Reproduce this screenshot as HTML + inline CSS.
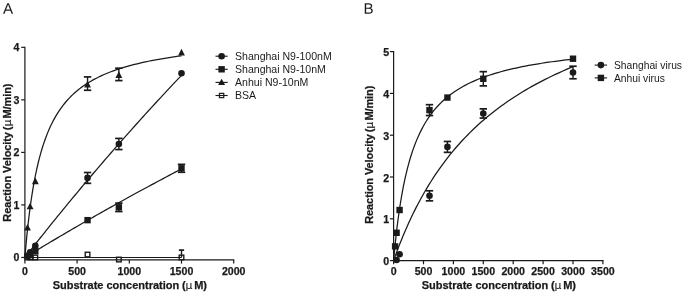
<!DOCTYPE html>
<html><head><meta charset="utf-8"><title>Figure</title>
<style>
html,body{margin:0;padding:0;background:#fff;}
body{width:685px;height:295px;overflow:hidden;}
svg{display:block;}
text{font-family:"Liberation Sans",Arial,Helvetica,sans-serif;fill:#1a1a1a;}
.tk{font-size:10.6px;font-weight:bold;stroke:#1a1a1a;stroke-width:0.25px;}
.al{font-size:11px;font-weight:bold;stroke:#1a1a1a;stroke-width:0.25px;}
.lg{font-size:10.55px;}
.lb{font-size:10.3px;}
.pl{font-size:15.2px;}
.mu{font-family:"DejaVu Sans","Liberation Sans",sans-serif;font-weight:normal;font-size:10.8px;stroke-width:0.1px;}
</style></head><body>
<svg width="685" height="295" viewBox="0 0 685 295">
<rect width="100%" height="100%" fill="#fff"/>
<text transform="translate(3 13.7) rotate(0.05)" class="pl">A</text>
<text transform="translate(363.5 13.7) rotate(0.05)" class="pl">B</text>
<line x1="24.3" y1="259.9" x2="234.3" y2="259.9" stroke="#1a1a1a" stroke-width="1.2" stroke-linecap="butt"/>
<line x1="24.9" y1="259.9" x2="24.9" y2="46.73" stroke="#1a1a1a" stroke-width="1.2" stroke-linecap="butt"/>
<line x1="24.9" y1="259.9" x2="24.9" y2="263.6" stroke="#1a1a1a" stroke-width="1.2" stroke-linecap="butt"/>
<text x="24.9" y="274.5" text-anchor="middle" class="tk">0</text>
<line x1="77.1" y1="259.9" x2="77.1" y2="263.6" stroke="#1a1a1a" stroke-width="1.2" stroke-linecap="butt"/>
<text x="77.1" y="274.5" text-anchor="middle" class="tk">500</text>
<line x1="129.3" y1="259.9" x2="129.3" y2="263.6" stroke="#1a1a1a" stroke-width="1.2" stroke-linecap="butt"/>
<text x="129.3" y="274.5" text-anchor="middle" class="tk">1000</text>
<line x1="181.5" y1="259.9" x2="181.5" y2="263.6" stroke="#1a1a1a" stroke-width="1.2" stroke-linecap="butt"/>
<text x="181.5" y="274.5" text-anchor="middle" class="tk">1500</text>
<line x1="233.7" y1="259.9" x2="233.7" y2="263.6" stroke="#1a1a1a" stroke-width="1.2" stroke-linecap="butt"/>
<text x="233.7" y="274.5" text-anchor="middle" class="tk">2000</text>
<line x1="21.2" y1="257.45" x2="24.9" y2="257.45" stroke="#1a1a1a" stroke-width="1.2" stroke-linecap="butt"/>
<text x="19.3" y="261.15" text-anchor="end" class="tk">0</text>
<line x1="21.2" y1="204.92" x2="24.9" y2="204.92" stroke="#1a1a1a" stroke-width="1.2" stroke-linecap="butt"/>
<text x="19.3" y="208.62" text-anchor="end" class="tk">1</text>
<line x1="21.2" y1="152.39" x2="24.9" y2="152.39" stroke="#1a1a1a" stroke-width="1.2" stroke-linecap="butt"/>
<text x="19.3" y="156.09" text-anchor="end" class="tk">2</text>
<line x1="21.2" y1="99.86" x2="24.9" y2="99.86" stroke="#1a1a1a" stroke-width="1.2" stroke-linecap="butt"/>
<text x="19.3" y="103.56" text-anchor="end" class="tk">3</text>
<line x1="21.2" y1="47.33" x2="24.9" y2="47.33" stroke="#1a1a1a" stroke-width="1.2" stroke-linecap="butt"/>
<text x="19.3" y="51.03" text-anchor="end" class="tk">4</text>
<polyline points="24.9,257.45 25.04,255.73 25.33,252.32 25.72,247.83 26.2,242.59 26.75,236.79 27.38,230.63 28.08,224.23 28.83,217.71 29.65,211.16 30.52,204.66 31.45,198.24 32.43,191.97 33.45,185.87 34.53,179.95 35.65,174.25 36.82,168.76 38.04,163.49 39.3,158.45 40.6,153.62 41.94,149.02 43.32,144.62 44.75,140.43 46.21,136.43 47.71,132.63 49.25,129.01 50.83,125.56 52.44,122.27 54.09,119.14 55.78,116.16 57.5,113.33 59.26,110.62 61.05,108.04 62.87,105.58 64.73,103.24 66.62,101 68.54,98.86 70.5,96.82 72.49,94.87 74.51,93.01 76.56,91.22 78.64,89.51 80.75,87.88 82.9,86.32 85.07,84.82 87.27,83.38 89.5,82 91.77,80.67 94.06,79.4 96.38,78.18 98.72,77.01 101.1,75.88 103.51,74.79 105.94,73.75 108.4,72.74 110.89,71.77 113.4,70.84 115.94,69.94 118.51,69.07 121.11,68.23 123.73,67.43 126.38,66.64 129.05,65.89 131.75,65.16 134.48,64.46 137.23,63.78 140.01,63.12 142.81,62.48 145.64,61.86 148.5,61.26 151.37,60.68 154.28,60.12 157.21,59.58 160.16,59.05 163.14,58.54 166.14,58.04 169.16,57.56 172.21,57.09 175.28,56.63 178.38,56.19 181.5,55.76" fill="none" stroke="#1a1a1a" stroke-width="1.25" stroke-linejoin="round"/>
<polyline points="24.9,257.45 25.04,257.27 25.33,256.9 25.72,256.4 26.2,255.78 26.75,255.07 27.38,254.27 28.08,253.38 28.83,252.41 29.65,251.37 30.52,250.25 31.45,249.07 32.43,247.83 33.45,246.52 34.53,245.16 35.65,243.73 36.82,242.25 38.04,240.72 39.3,239.13 40.6,237.49 41.94,235.8 43.32,234.07 44.75,232.28 46.21,230.45 47.71,228.58 49.25,226.66 50.83,224.7 52.44,222.7 54.09,220.66 55.78,218.58 57.5,216.46 59.26,214.3 61.05,212.1 62.87,209.87 64.73,207.6 66.62,205.3 68.54,202.97 70.5,200.6 72.49,198.19 74.51,195.76 76.56,193.3 78.64,190.8 80.75,188.27 82.9,185.72 85.07,183.14 87.27,180.52 89.5,177.88 91.77,175.22 94.06,172.53 96.38,169.81 98.72,167.06 101.1,164.29 103.51,161.5 105.94,158.69 108.4,155.85 110.89,152.98 113.4,150.1 115.94,147.19 118.51,144.26 121.11,141.31 123.73,138.34 126.38,135.36 129.05,132.35 131.75,129.32 134.48,126.27 137.23,123.21 140.01,120.13 142.81,117.03 145.64,113.91 148.5,110.78 151.37,107.63 154.28,104.46 157.21,101.28 160.16,98.08 163.14,94.87 166.14,91.65 169.16,88.41 172.21,85.16 175.28,81.89 178.38,78.61 181.5,75.32" fill="none" stroke="#1a1a1a" stroke-width="1.25" stroke-linejoin="round"/>
<polyline points="24.9,257.45 25.04,257.36 25.33,257.19 25.72,256.95 26.2,256.66 26.75,256.32 27.38,255.93 28.08,255.51 28.83,255.05 29.65,254.55 30.52,254.02 31.45,253.46 32.43,252.87 33.45,252.24 34.53,251.59 35.65,250.91 36.82,250.21 38.04,249.47 39.3,248.71 40.6,247.93 41.94,247.12 43.32,246.29 44.75,245.44 46.21,244.57 47.71,243.67 49.25,242.75 50.83,241.81 52.44,240.85 54.09,239.87 55.78,238.87 57.5,237.85 59.26,236.82 61.05,235.76 62.87,234.69 64.73,233.59 66.62,232.49 68.54,231.36 70.5,230.22 72.49,229.06 74.51,227.89 76.56,226.69 78.64,225.49 80.75,224.27 82.9,223.03 85.07,221.78 87.27,220.52 89.5,219.24 91.77,217.94 94.06,216.64 96.38,215.32 98.72,213.98 101.1,212.64 103.51,211.28 105.94,209.91 108.4,208.52 110.89,207.13 113.4,205.72 115.94,204.3 118.51,202.87 121.11,201.43 123.73,199.98 126.38,198.51 129.05,197.04 131.75,195.55 134.48,194.06 137.23,192.56 140.01,191.04 142.81,189.52 145.64,187.98 148.5,186.44 151.37,184.89 154.28,183.33 157.21,181.76 160.16,180.18 163.14,178.59 166.14,176.99 169.16,175.39 172.21,173.78 175.28,172.16 178.38,170.53 181.5,168.9" fill="none" stroke="#1a1a1a" stroke-width="1.25" stroke-linejoin="round"/>
<line x1="24.9" y1="257.45" x2="181.5" y2="257.45" stroke="#1a1a1a" stroke-width="1.1" stroke-linecap="butt"/>
<line x1="181.5" y1="250.1" x2="181.5" y2="257.45" stroke="#1a1a1a" stroke-width="1.4" stroke-linecap="butt"/>
<line x1="178.9" y1="250.1" x2="184.1" y2="250.1" stroke="#1a1a1a" stroke-width="1.7" stroke-linecap="butt"/>
<rect x="27.82" y="255.15" width="4.6" height="4.6" fill="none" stroke="#1a1a1a" stroke-width="1.4"/>
<rect x="33.04" y="255.15" width="4.6" height="4.6" fill="none" stroke="#1a1a1a" stroke-width="1.4"/>
<rect x="85.24" y="252.26" width="4.6" height="4.6" fill="none" stroke="#1a1a1a" stroke-width="1.4"/>
<rect x="116.56" y="257.25" width="4.6" height="4.6" fill="none" stroke="#1a1a1a" stroke-width="1.4"/>
<rect x="179.2" y="255.15" width="4.6" height="4.6" fill="none" stroke="#1a1a1a" stroke-width="1.4"/>
<line x1="87.54" y1="76.9" x2="87.54" y2="90.25" stroke="#1a1a1a" stroke-width="1.4" stroke-linecap="butt"/>
<line x1="83.84" y1="76.9" x2="91.24" y2="76.9" stroke="#1a1a1a" stroke-width="1.7" stroke-linecap="butt"/>
<line x1="83.84" y1="90.25" x2="91.24" y2="90.25" stroke="#1a1a1a" stroke-width="1.7" stroke-linecap="butt"/>
<line x1="118.86" y1="68.18" x2="118.86" y2="80.58" stroke="#1a1a1a" stroke-width="1.4" stroke-linecap="butt"/>
<line x1="115.16" y1="68.18" x2="122.56" y2="68.18" stroke="#1a1a1a" stroke-width="1.7" stroke-linecap="butt"/>
<line x1="115.16" y1="80.58" x2="122.56" y2="80.58" stroke="#1a1a1a" stroke-width="1.7" stroke-linecap="butt"/>
<polygon points="27.51,223.92 24.11,230.62 30.91,230.62" fill="#1a1a1a"/>
<polygon points="30.12,202.65 26.72,209.35 33.52,209.35" fill="#1a1a1a"/>
<polygon points="35.34,177.43 31.94,184.13 38.74,184.13" fill="#1a1a1a"/>
<polygon points="87.54,80.78 84.14,87.48 90.94,87.48" fill="#1a1a1a"/>
<polygon points="118.86,71.32 115.46,78.02 122.26,78.02" fill="#1a1a1a"/>
<polygon points="181.5,48.73 178.1,55.43 184.9,55.43" fill="#1a1a1a"/>
<line x1="87.54" y1="172.51" x2="87.54" y2="183.33" stroke="#1a1a1a" stroke-width="1.4" stroke-linecap="butt"/>
<line x1="83.84" y1="172.51" x2="91.24" y2="172.51" stroke="#1a1a1a" stroke-width="1.7" stroke-linecap="butt"/>
<line x1="83.84" y1="183.33" x2="91.24" y2="183.33" stroke="#1a1a1a" stroke-width="1.7" stroke-linecap="butt"/>
<line x1="118.86" y1="138.42" x2="118.86" y2="149.55" stroke="#1a1a1a" stroke-width="1.4" stroke-linecap="butt"/>
<line x1="115.16" y1="138.42" x2="122.56" y2="138.42" stroke="#1a1a1a" stroke-width="1.7" stroke-linecap="butt"/>
<line x1="115.16" y1="149.55" x2="122.56" y2="149.55" stroke="#1a1a1a" stroke-width="1.7" stroke-linecap="butt"/>
<circle cx="27.51" cy="255.87" r="3.3" fill="#1a1a1a"/>
<circle cx="30.12" cy="252.2" r="3.3" fill="#1a1a1a"/>
<circle cx="35.34" cy="245.89" r="3.3" fill="#1a1a1a"/>
<circle cx="87.54" cy="177.92" r="3.3" fill="#1a1a1a"/>
<circle cx="118.86" cy="143.99" r="3.3" fill="#1a1a1a"/>
<circle cx="181.5" cy="73.23" r="3.3" fill="#1a1a1a"/>
<line x1="118.86" y1="203.13" x2="118.86" y2="211.54" stroke="#1a1a1a" stroke-width="1.4" stroke-linecap="butt"/>
<line x1="115.16" y1="203.13" x2="122.56" y2="203.13" stroke="#1a1a1a" stroke-width="1.7" stroke-linecap="butt"/>
<line x1="115.16" y1="211.54" x2="122.56" y2="211.54" stroke="#1a1a1a" stroke-width="1.7" stroke-linecap="butt"/>
<line x1="181.5" y1="164.37" x2="181.5" y2="172.25" stroke="#1a1a1a" stroke-width="1.4" stroke-linecap="butt"/>
<line x1="177.8" y1="164.37" x2="185.2" y2="164.37" stroke="#1a1a1a" stroke-width="1.7" stroke-linecap="butt"/>
<line x1="177.8" y1="172.25" x2="185.2" y2="172.25" stroke="#1a1a1a" stroke-width="1.7" stroke-linecap="butt"/>
<rect x="24.31" y="253.2" width="6.4" height="6.4" fill="#1a1a1a"/>
<rect x="26.92" y="251.62" width="6.4" height="6.4" fill="#1a1a1a"/>
<rect x="32.14" y="247.95" width="6.4" height="6.4" fill="#1a1a1a"/>
<rect x="84.34" y="216.95" width="6.4" height="6.4" fill="#1a1a1a"/>
<rect x="115.66" y="204.14" width="6.4" height="6.4" fill="#1a1a1a"/>
<rect x="178.3" y="165.11" width="6.4" height="6.4" fill="#1a1a1a"/>
<text y="289.1" class="al"><tspan x="52.7">Substrate concentration</tspan> <tspan x="182.1">(</tspan><tspan x="185.4" class="mu">μ</tspan><tspan x="194.2">M)</tspan></text>
<text transform="translate(11.2,221.7) rotate(-90)" y="0" class="al"><tspan x="0" letter-spacing="-0.09">Reaction Velocity</tspan> <tspan x="91.5">(</tspan><tspan x="95.1" class="mu">μ</tspan><tspan x="103.2" letter-spacing="-0.1">M/min)</tspan></text>
<line x1="215.5" y1="56.2" x2="227.7" y2="56.2" stroke="#1a1a1a" stroke-width="1.1" stroke-linecap="butt"/>
<circle cx="221.6" cy="56.2" r="3.3" fill="#1a1a1a"/>
<text x="235.0" y="59.9" class="lg">Shanghai N9-100nM</text>
<line x1="215.5" y1="69.3" x2="227.7" y2="69.3" stroke="#1a1a1a" stroke-width="1.1" stroke-linecap="butt"/>
<rect x="218.4" y="66.1" width="6.4" height="6.4" fill="#1a1a1a"/>
<text x="235.0" y="73" class="lg">Shanghai N9-10nM</text>
<line x1="215.5" y1="82.4" x2="227.7" y2="82.4" stroke="#1a1a1a" stroke-width="1.1" stroke-linecap="butt"/>
<polygon points="221.6,78.8 218.1,85 225.1,85" fill="#1a1a1a"/>
<text x="235.0" y="86.1" class="lg">Anhui N9-10nM</text>
<line x1="215.5" y1="95.5" x2="227.7" y2="95.5" stroke="#1a1a1a" stroke-width="1.1" stroke-linecap="butt"/>
<rect x="219.45" y="93.35" width="4.3" height="4.3" fill="none" stroke="#1a1a1a" stroke-width="1.2"/>
<text x="235.0" y="99.2" class="lg">BSA</text>
<line x1="393" y1="260.6" x2="603.5" y2="260.6" stroke="#1a1a1a" stroke-width="1.2" stroke-linecap="butt"/>
<line x1="393.6" y1="260.6" x2="393.6" y2="51" stroke="#1a1a1a" stroke-width="1.2" stroke-linecap="butt"/>
<line x1="393.6" y1="260.6" x2="393.6" y2="264.3" stroke="#1a1a1a" stroke-width="1.2" stroke-linecap="butt"/>
<text x="393.6" y="275.1" text-anchor="middle" class="tk">0</text>
<line x1="423.5" y1="260.6" x2="423.5" y2="264.3" stroke="#1a1a1a" stroke-width="1.2" stroke-linecap="butt"/>
<text x="423.5" y="275.1" text-anchor="middle" class="tk">500</text>
<line x1="453.4" y1="260.6" x2="453.4" y2="264.3" stroke="#1a1a1a" stroke-width="1.2" stroke-linecap="butt"/>
<text x="453.4" y="275.1" text-anchor="middle" class="tk">1000</text>
<line x1="483.3" y1="260.6" x2="483.3" y2="264.3" stroke="#1a1a1a" stroke-width="1.2" stroke-linecap="butt"/>
<text x="483.3" y="275.1" text-anchor="middle" class="tk">1500</text>
<line x1="513.2" y1="260.6" x2="513.2" y2="264.3" stroke="#1a1a1a" stroke-width="1.2" stroke-linecap="butt"/>
<text x="513.2" y="275.1" text-anchor="middle" class="tk">2000</text>
<line x1="543.1" y1="260.6" x2="543.1" y2="264.3" stroke="#1a1a1a" stroke-width="1.2" stroke-linecap="butt"/>
<text x="543.1" y="275.1" text-anchor="middle" class="tk">2500</text>
<line x1="573" y1="260.6" x2="573" y2="264.3" stroke="#1a1a1a" stroke-width="1.2" stroke-linecap="butt"/>
<text x="573" y="275.1" text-anchor="middle" class="tk">3000</text>
<line x1="602.9" y1="260.6" x2="602.9" y2="264.3" stroke="#1a1a1a" stroke-width="1.2" stroke-linecap="butt"/>
<text x="602.9" y="275.1" text-anchor="middle" class="tk">3500</text>
<line x1="389.9" y1="260.6" x2="393.6" y2="260.6" stroke="#1a1a1a" stroke-width="1.2" stroke-linecap="butt"/>
<text x="389.1" y="265.1" text-anchor="end" class="tk">0</text>
<line x1="389.9" y1="218.8" x2="393.6" y2="218.8" stroke="#1a1a1a" stroke-width="1.2" stroke-linecap="butt"/>
<text x="389.1" y="223.3" text-anchor="end" class="tk">1</text>
<line x1="389.9" y1="177" x2="393.6" y2="177" stroke="#1a1a1a" stroke-width="1.2" stroke-linecap="butt"/>
<text x="389.1" y="181.5" text-anchor="end" class="tk">2</text>
<line x1="389.9" y1="135.2" x2="393.6" y2="135.2" stroke="#1a1a1a" stroke-width="1.2" stroke-linecap="butt"/>
<text x="389.1" y="139.7" text-anchor="end" class="tk">3</text>
<line x1="389.9" y1="93.4" x2="393.6" y2="93.4" stroke="#1a1a1a" stroke-width="1.2" stroke-linecap="butt"/>
<text x="389.1" y="97.9" text-anchor="end" class="tk">4</text>
<line x1="389.9" y1="51.6" x2="393.6" y2="51.6" stroke="#1a1a1a" stroke-width="1.2" stroke-linecap="butt"/>
<text x="389.1" y="56.1" text-anchor="end" class="tk">5</text>
<polyline points="393.6,260.6 393.76,258.78 394.09,255.18 394.54,250.45 395.09,244.93 395.72,238.87 396.44,232.43 397.24,225.78 398.11,219.03 399.04,212.27 400.04,205.58 401.1,199.01 402.22,192.61 403.4,186.4 404.63,180.41 405.92,174.65 407.26,169.12 408.65,163.83 410.09,158.79 411.58,153.97 413.12,149.39 414.71,145.03 416.34,140.88 418.01,136.93 419.73,133.18 421.5,129.62 423.31,126.23 425.15,123.02 427.05,119.96 428.98,117.05 430.95,114.28 432.96,111.65 435.01,109.14 437.1,106.76 439.23,104.49 441.4,102.32 443.6,100.26 445.84,98.29 448.12,96.41 450.43,94.61 452.78,92.89 455.16,91.25 457.58,89.68 460.04,88.18 462.53,86.74 465.05,85.37 467.61,84.05 470.2,82.78 472.83,81.57 475.48,80.4 478.17,79.28 480.9,78.2 483.65,77.17 486.44,76.17 489.26,75.22 492.11,74.29 494.99,73.41 497.9,72.55 500.84,71.73 503.82,70.93 506.82,70.16 509.85,69.42 512.92,68.71 516.01,68.02 519.14,67.35 522.29,66.7 525.47,66.08 528.68,65.48 531.92,64.89 535.19,64.33 538.49,63.78 541.81,63.25 545.17,62.73 548.55,62.23 551.96,61.75 555.4,61.28 558.86,60.82 562.36,60.38 565.88,59.95 569.43,59.54 573,59.13" fill="none" stroke="#1a1a1a" stroke-width="1.25" stroke-linejoin="round"/>
<polyline points="393.6,260.6 393.76,260.14 394.09,259.22 394.54,257.96 395.09,256.44 395.72,254.69 396.44,252.74 397.24,250.62 398.11,248.33 399.04,245.9 400.04,243.35 401.1,240.69 402.22,237.94 403.4,235.09 404.63,232.17 405.92,229.19 407.26,226.14 408.65,223.05 410.09,219.93 411.58,216.76 413.12,213.58 414.71,210.37 416.34,207.15 418.01,203.92 419.73,200.69 421.5,197.46 423.31,194.24 425.15,191.03 427.05,187.83 428.98,184.64 430.95,181.48 432.96,178.33 435.01,175.21 437.1,172.12 439.23,169.05 441.4,166.02 443.6,163.02 445.84,160.05 448.12,157.11 450.43,154.21 452.78,151.34 455.16,148.51 457.58,145.72 460.04,142.97 462.53,140.25 465.05,137.58 467.61,134.94 470.2,132.34 472.83,129.78 475.48,127.26 478.17,124.77 480.9,122.33 483.65,119.92 486.44,117.56 489.26,115.23 492.11,112.94 494.99,110.68 497.9,108.47 500.84,106.29 503.82,104.14 506.82,102.04 509.85,99.96 512.92,97.93 516.01,95.93 519.14,93.96 522.29,92.02 525.47,90.12 528.68,88.25 531.92,86.41 535.19,84.61 538.49,82.83 541.81,81.09 545.17,79.38 548.55,77.69 551.96,76.04 555.4,74.41 558.86,72.81 562.36,71.24 565.88,69.69 569.43,68.17 573,66.68" fill="none" stroke="#1a1a1a" stroke-width="1.25" stroke-linejoin="round"/>
<line x1="429.48" y1="104.69" x2="429.48" y2="115.55" stroke="#1a1a1a" stroke-width="1.4" stroke-linecap="butt"/>
<line x1="425.78" y1="104.69" x2="433.18" y2="104.69" stroke="#1a1a1a" stroke-width="1.7" stroke-linecap="butt"/>
<line x1="425.78" y1="115.55" x2="433.18" y2="115.55" stroke="#1a1a1a" stroke-width="1.7" stroke-linecap="butt"/>
<line x1="483.3" y1="71.66" x2="483.3" y2="85.88" stroke="#1a1a1a" stroke-width="1.4" stroke-linecap="butt"/>
<line x1="479.6" y1="71.66" x2="487" y2="71.66" stroke="#1a1a1a" stroke-width="1.7" stroke-linecap="butt"/>
<line x1="479.6" y1="85.88" x2="487" y2="85.88" stroke="#1a1a1a" stroke-width="1.7" stroke-linecap="butt"/>
<rect x="391.9" y="243.19" width="6.4" height="6.4" fill="#1a1a1a"/>
<rect x="393.39" y="229.6" width="6.4" height="6.4" fill="#1a1a1a"/>
<rect x="396.38" y="206.82" width="6.4" height="6.4" fill="#1a1a1a"/>
<rect x="426.28" y="106.92" width="6.4" height="6.4" fill="#1a1a1a"/>
<rect x="444.22" y="94.38" width="6.4" height="6.4" fill="#1a1a1a"/>
<rect x="480.1" y="75.57" width="6.4" height="6.4" fill="#1a1a1a"/>
<rect x="569.8" y="55.51" width="6.4" height="6.4" fill="#1a1a1a"/>
<line x1="429.48" y1="190.79" x2="429.48" y2="200.83" stroke="#1a1a1a" stroke-width="1.4" stroke-linecap="butt"/>
<line x1="425.78" y1="190.79" x2="433.18" y2="190.79" stroke="#1a1a1a" stroke-width="1.7" stroke-linecap="butt"/>
<line x1="425.78" y1="200.83" x2="433.18" y2="200.83" stroke="#1a1a1a" stroke-width="1.7" stroke-linecap="butt"/>
<line x1="447.42" y1="141.47" x2="447.42" y2="152.34" stroke="#1a1a1a" stroke-width="1.4" stroke-linecap="butt"/>
<line x1="443.72" y1="141.47" x2="451.12" y2="141.47" stroke="#1a1a1a" stroke-width="1.7" stroke-linecap="butt"/>
<line x1="443.72" y1="152.34" x2="451.12" y2="152.34" stroke="#1a1a1a" stroke-width="1.7" stroke-linecap="butt"/>
<line x1="483.3" y1="108.87" x2="483.3" y2="118.06" stroke="#1a1a1a" stroke-width="1.4" stroke-linecap="butt"/>
<line x1="479.6" y1="108.87" x2="487" y2="108.87" stroke="#1a1a1a" stroke-width="1.7" stroke-linecap="butt"/>
<line x1="479.6" y1="118.06" x2="487" y2="118.06" stroke="#1a1a1a" stroke-width="1.7" stroke-linecap="butt"/>
<line x1="573" y1="66.23" x2="573" y2="78.77" stroke="#1a1a1a" stroke-width="1.4" stroke-linecap="butt"/>
<line x1="569.3" y1="66.23" x2="576.7" y2="66.23" stroke="#1a1a1a" stroke-width="1.7" stroke-linecap="butt"/>
<line x1="569.3" y1="78.77" x2="576.7" y2="78.77" stroke="#1a1a1a" stroke-width="1.7" stroke-linecap="butt"/>
<circle cx="396.59" cy="259.97" r="3.3" fill="#1a1a1a"/>
<circle cx="399.58" cy="254.2" r="3.3" fill="#1a1a1a"/>
<circle cx="429.48" cy="195.81" r="3.3" fill="#1a1a1a"/>
<circle cx="447.42" cy="146.9" r="3.3" fill="#1a1a1a"/>
<circle cx="483.3" cy="113.46" r="3.3" fill="#1a1a1a"/>
<circle cx="573" cy="72.5" r="3.3" fill="#1a1a1a"/>
<text y="289.4" class="al"><tspan x="421.7">Substrate concentration</tspan> <tspan x="551.1">(</tspan><tspan x="554.4" class="mu">μ</tspan><tspan x="563.2">M)</tspan></text>
<text transform="translate(373.2,223.8) rotate(-90)" y="0" class="al"><tspan x="0" letter-spacing="-0.09">Reaction Velocity</tspan> <tspan x="91.5">(</tspan><tspan x="95.1" class="mu">μ</tspan><tspan x="103.2" letter-spacing="-0.1">M/min)</tspan></text>
<line x1="594.7" y1="65.1" x2="607.1" y2="65.1" stroke="#1a1a1a" stroke-width="1.1" stroke-linecap="butt"/>
<circle cx="600.9" cy="65.1" r="3.3" fill="#1a1a1a"/>
<text x="613.9" y="68.8" class="lg lb">Shanghai virus</text>
<line x1="594.7" y1="77.9" x2="607.1" y2="77.9" stroke="#1a1a1a" stroke-width="1.1" stroke-linecap="butt"/>
<rect x="597.7" y="74.7" width="6.4" height="6.4" fill="#1a1a1a"/>
<text x="613.9" y="81.6" class="lg lb">Anhui virus</text>
</svg>
</body></html>
